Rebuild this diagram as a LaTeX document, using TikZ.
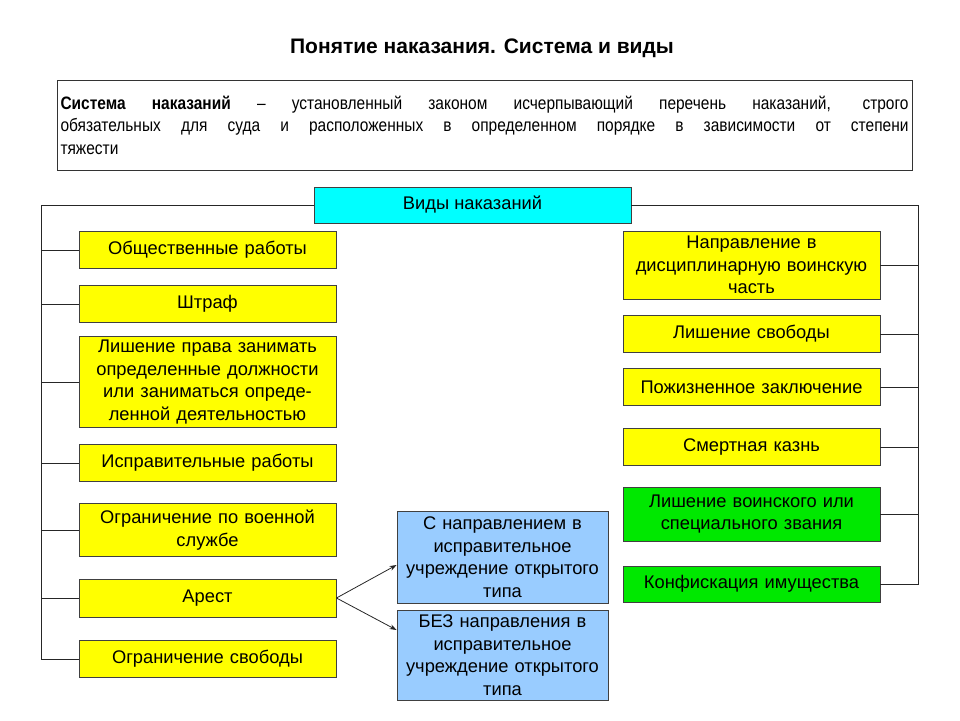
\documentclass[tikz,border=0pt]{standalone}
\usepackage{fontspec}
\setmainfont{Liberation Sans}
\newfontfamily\narrowfont[FakeStretch=0.86]{Liberation Sans}
\usetikzlibrary{positioning, arrows.meta}
\definecolor{boxyellow}{RGB}{255,255,0}
\definecolor{boxgreen}{RGB}{0,232,0}
\definecolor{boxblue}{RGB}{153,204,255}
\definecolor{boxcyan}{RGB}{0,255,255}
\tikzset{
    >={Stealth[length=7pt, width=5pt]}, % small solid heads
    box/.style={draw=black!75, line width=0.9pt, align=center, inner sep=2pt,
        font=\fontsize{18.3}{22.5}\selectfont},
    kind/.style={box, fill=boxyellow, minimum width=257, text width=253},
    kindg/.style={box, fill=boxgreen, minimum width=257, text width=253},
    arest/.style={box, fill=boxblue, minimum width=211, text width=207},
    link/.style={draw=black!85, line width=0.8pt}
}

\begin{document}
\begin{tikzpicture}[x=1pt, y=-1pt]
    \useasboundingbox (0,0) rectangle (960,720);

    \node[font=\fontsize{21}{24}\selectfont\bfseries] (title) at (482,48) {Понятие наказания. Система и виды};
    \node[draw=black!80, line width=0.9pt, minimum width=855, minimum height=90, text width=848,
          align=justify, inner sep=2pt, font=\narrowfont\fontsize{18}{22.5}\selectfont]
        (defn) at (484.5,125) {\textbf{Система наказаний} – установленный законом исчерпывающий перечень наказаний, строго\linebreak
        обязательных для суда и расположенных в определенном порядке в зависимости от степени\linebreak
        тяжести};

    \node[box, fill=boxcyan, minimum width=317, minimum height=36] (vid) at (472.5,205) {Виды наказаний};

    % left column
    \node[kind, minimum height=37] (l1) at (207.5,250) {Общественные работы};
    \node[kind, minimum height=37] (l2) at (207.5,304) {Штраф};
    \node[kind, minimum height=91] (l3) at (207.5,382) {Лишение права занимать\\ определенные должности\\ или заниматься опреде-\\ленной деятельностью};
    \node[kind, minimum height=37] (l4) at (207.5,463) {Исправительные работы};
    \node[kind, minimum height=53] (l5) at (207.5,530) {Ограничение по военной\\ службе};
    \node[kind, minimum height=38] (l6) at (207.5,598) {Арест};
    \node[kind, minimum height=37] (l7) at (207.5,659) {Ограничение свободы};

    % right column
    \node[kind, minimum height=68] (r1) at (751.5,265) {Направление в\\ дисциплинарную воинскую\\ часть};
    \node[kind, minimum height=37] (r2) at (751.5,334) {Лишение свободы};
    \node[kind, minimum height=37] (r3) at (751.5,387) {Пожизненное заключение};
    \node[kind, minimum height=37] (r4) at (751.5,447) {Смертная казнь};
    \node[kindg, minimum height=54] (r5) at (751.5,514) {Лишение воинского или\\ специального звания};
    \node[kindg, minimum height=36] (r6) at (751.5,584) {Конфискация имущества};

    % arrest kinds
    \node[arest, minimum height=92] (a1) at (502.5,557) {С направлением в\\ исправительное\\ учреждение открытого\\ типа};
    \node[arest, minimum height=90] (a2) at (502.5,655) {БЕЗ направления в\\ исправительное\\ учреждение открытого\\ типа};

    \coordinate (lft) at (41,0);
    \coordinate (rgt) at (918,0);

    \draw[link] (vid.west) -- (vid.west -| lft) |- (l7.west);
    \foreach \n in {l1,l2,l3,l4,l5,l6}
        \draw[link] (lft |- \n.west) -- (\n.west);
    \draw[link] (vid.east) -- (vid.east -| rgt) |- (r6.east);
    \foreach \n in {r1,r2,r3,r4,r5}
        \draw[link] (rgt |- \n.east) -- (\n.east);

    \draw[link, ->] (l6.east) -- ([yshift=-8pt]a1.west);
    \draw[link, ->] (l6.east) -- ([yshift=25pt]a2.west);
\end{tikzpicture}
\end{document}
